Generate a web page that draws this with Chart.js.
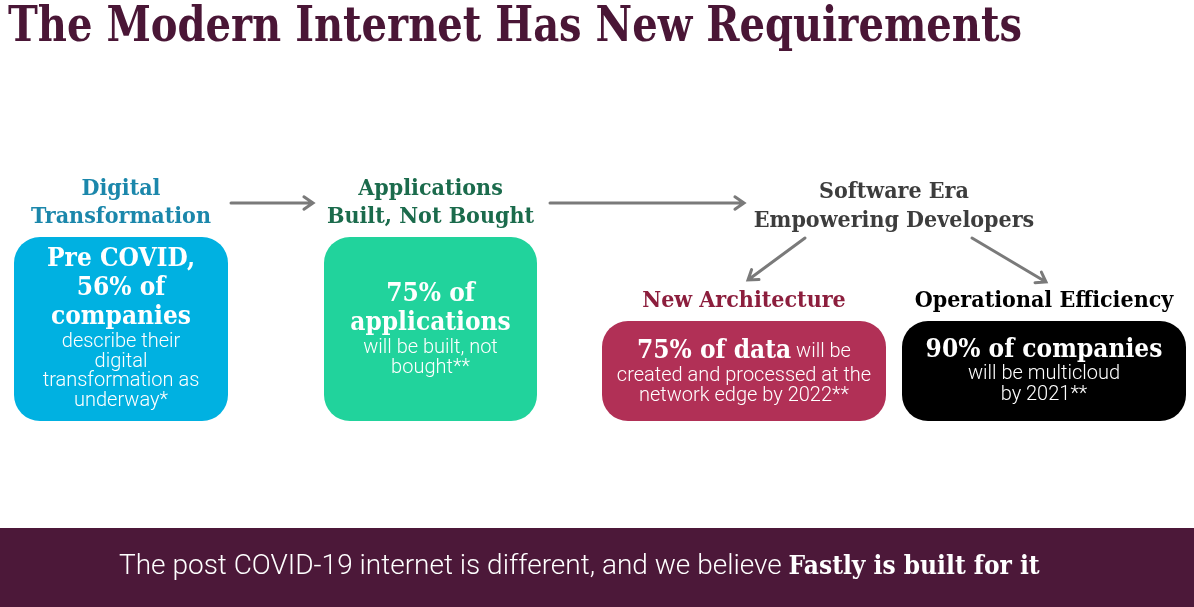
<!DOCTYPE html>
<html>
<head>
<meta charset="utf-8">
<script src="https://cdn.jsdelivr.net/npm/chart.js@4.4.1/dist/chart.umd.min.js"></script>
<style>
  html, body { margin: 0; padding: 0; background: #fff; }
  #wrap { width: 1194px; height: 607px; position: relative; }
</style>
</head>
<body>
<div id="wrap"><canvas id="myChart"></canvas></div>
<script>
// slide content
const title = "The Modern Internet Has New Requirements";
const stages = [["Digital", "Transformation"], ["Applications", "Built, Not Bought"], ["New Architecture"], ["Operational Efficiency"]];
const hub = ["Software Era", "Empowering Developers"];
const shares = [56, 75, 75, 90];
const headlines = [["Pre COVID,", "{v}% of", "companies"], ["{v}% of", "applications"], ["{v}% of data"], ["{v}% of companies"]];
const details = [
  ["describe their", "digital", "transformation as", "underway*"],
  ["will be built, not", "bought**"],
  [" will be", "created and processed at the", "network edge by 2022**"],
  ["will be multicloud", "by 2021**"],
];
const footer = ["The post COVID-19 internet is different, and we believe ", "Fastly is built for it"];

// layout in scale units (the scales span the slide 1:1)
const boxes = [
  { x0: 14, x1: 228, y0: 237, y1: 421, color: "#00b1e1", head: [189, 217], bold: [259, 288, 317], light: [342, 362, 381, 401] },
  { x0: 324, x1: 537, y0: 237, y1: 421, color: "#21d39c", head: [189, 217], bold: [294, 323], light: [348, 368] },
  { x0: 602, x1: 886, y0: 321, y1: 421, color: "#b13056", head: [301], bold: [351], light: [352, 376, 396], inline: true },
  { x0: 902, x1: 1186, y0: 321, y1: 421, color: "#000000", head: [301], bold: [350], light: [374, 395] },
];
const headColors = ["#1b87ab", "#1b6b4c", "#8c1e3d", "#000000"];
const arrows = [[231, 203, 313, 203], [550, 203, 744, 203], [805, 238, 748, 280], [972, 238, 1046, 282]];

const boldFont = '"DejaVu Serif Condensed", "DejaVu Serif", serif';
const lightFont = 'Roboto, "DejaVu Sans", sans-serif';

function roundRect(ctx, x, y, w, h, r) {
  ctx.beginPath();
  ctx.moveTo(x + r, y);
  ctx.arcTo(x + w, y, x + w, y + h, r);
  ctx.arcTo(x + w, y + h, x, y + h, r);
  ctx.arcTo(x, y + h, x, y, r);
  ctx.arcTo(x, y, x + w, y, r);
  ctx.closePath();
}

const slidePlugin = {
  id: "slide",
  afterDraw(chart) {
    const ctx = chart.ctx;
    const sx = chart.scales.x, sy = chart.scales.y;
    const px = (v) => sx.getPixelForValue(v);
    const py = (v) => sy.getPixelForValue(v);
    ctx.save();

    // title
    ctx.fillStyle = "#4a1636";
    ctx.font = "bold 49px " + boldFont;
    ctx.textAlign = "left";
    ctx.textBaseline = "alphabetic";
    ctx.fillText(title, px(8), py(41), px(1022) - px(8));
    ctx.textBaseline = "middle";

    // arrows
    ctx.strokeStyle = "#7a7a7a";
    ctx.lineWidth = 3;
    ctx.lineCap = "round";
    arrows.forEach(([x0, y0, x1, y1]) => {
      const a = px(x0), b = py(y0), c = px(x1), d = py(y1);
      const ang = Math.atan2(d - b, c - a);
      ctx.beginPath();
      ctx.moveTo(a, b);
      ctx.lineTo(c, d);
      ctx.moveTo(c - 11 * Math.cos(ang - 0.6), d - 11 * Math.sin(ang - 0.6));
      ctx.lineTo(c, d);
      ctx.lineTo(c - 11 * Math.cos(ang + 0.6), d - 11 * Math.sin(ang + 0.6));
      ctx.stroke();
    });

    // hub heading
    ctx.textAlign = "center";
    ctx.fillStyle = "#3d3d3d";
    ctx.font = "bold 23px " + boldFont;
    ctx.fillText(hub[0], px(894), py(192));
    ctx.fillText(hub[1], px(894), py(221));

    boxes.forEach((b, i) => {
      const cx = px((b.x0 + b.x1) / 2);
      ctx.textAlign = "center";
      ctx.fillStyle = headColors[i];
      ctx.font = "bold 23px " + boldFont;
      stages[i].forEach((t, k) => ctx.fillText(t, cx, py(b.head[k])));

      ctx.fillStyle = b.color;
      roundRect(ctx, px(b.x0), py(b.y0), px(b.x1) - px(b.x0), py(b.y1) - py(b.y0), 26);
      ctx.fill();

      ctx.fillStyle = "#ffffff";
      const lines = headlines[i].map((t) => t.replace("{v}", shares[i]));
      if (b.inline) {
        ctx.font = "bold 26px " + boldFont;
        const w1 = ctx.measureText(lines[0]).width;
        ctx.font = "300 20px " + lightFont;
        const w2 = ctx.measureText(details[i][0]).width;
        const x = cx - (w1 + w2) / 2;
        ctx.textAlign = "left";
        ctx.font = "bold 26px " + boldFont;
        ctx.fillText(lines[0], x, py(b.bold[0]));
        ctx.font = "300 20px " + lightFont;
        ctx.fillText(details[i][0], x + w1, py(b.light[0]));
        ctx.textAlign = "center";
        details[i].slice(1).forEach((t, k) => ctx.fillText(t, cx, py(b.light[k + 1])));
      } else {
        ctx.font = "bold 26px " + boldFont;
        lines.forEach((t, k) => ctx.fillText(t, cx, py(b.bold[k])));
        ctx.font = "300 20px " + lightFont;
        details[i].forEach((t, k) => ctx.fillText(t, cx, py(b.light[k])));
      }
    });

    // footer band
    ctx.fillStyle = "#4c1839";
    ctx.fillRect(px(0), py(528), px(1194) - px(0), py(607) - py(528));
    ctx.fillStyle = "#ffffff";
    ctx.font = "300 28px " + lightFont;
    const f1 = ctx.measureText(footer[0]).width;
    ctx.font = "bold 26px " + boldFont;
    const f2 = ctx.measureText(footer[1]).width;
    const fx = px(119);
    const scale = Math.min(1, (px(1047) - px(119)) / (f1 + f2));
    ctx.textAlign = "left";
    ctx.font = "300 28px " + lightFont;
    ctx.fillText(footer[0], fx, py(567), f1 * scale);
    ctx.font = "bold 26px " + boldFont;
    ctx.fillText(footer[1], fx + f1 * scale, py(567), f2 * scale);

    ctx.restore();
  },
};

new Chart(document.getElementById("myChart"), {
  type: "scatter",
  data: {
    datasets: [
      {
        label: "shares",
        data: boxes.map((b, i) => ({ x: (b.x0 + b.x1) / 2, y: (b.y0 + b.y1) / 2, v: shares[i] })),
        pointRadius: 0,
      },
    ],
  },
  options: {
    responsive: true,
    maintainAspectRatio: false,
    animation: false,
    layout: { padding: 0 },
    scales: {
      x: { type: "linear", min: 0, max: 1194, display: false },
      y: { type: "linear", min: 0, max: 607, reverse: true, display: false },
    },
    plugins: { legend: { display: false }, tooltip: { enabled: false } },
  },
  plugins: [slidePlugin],
});
</script>
</body>
</html>
